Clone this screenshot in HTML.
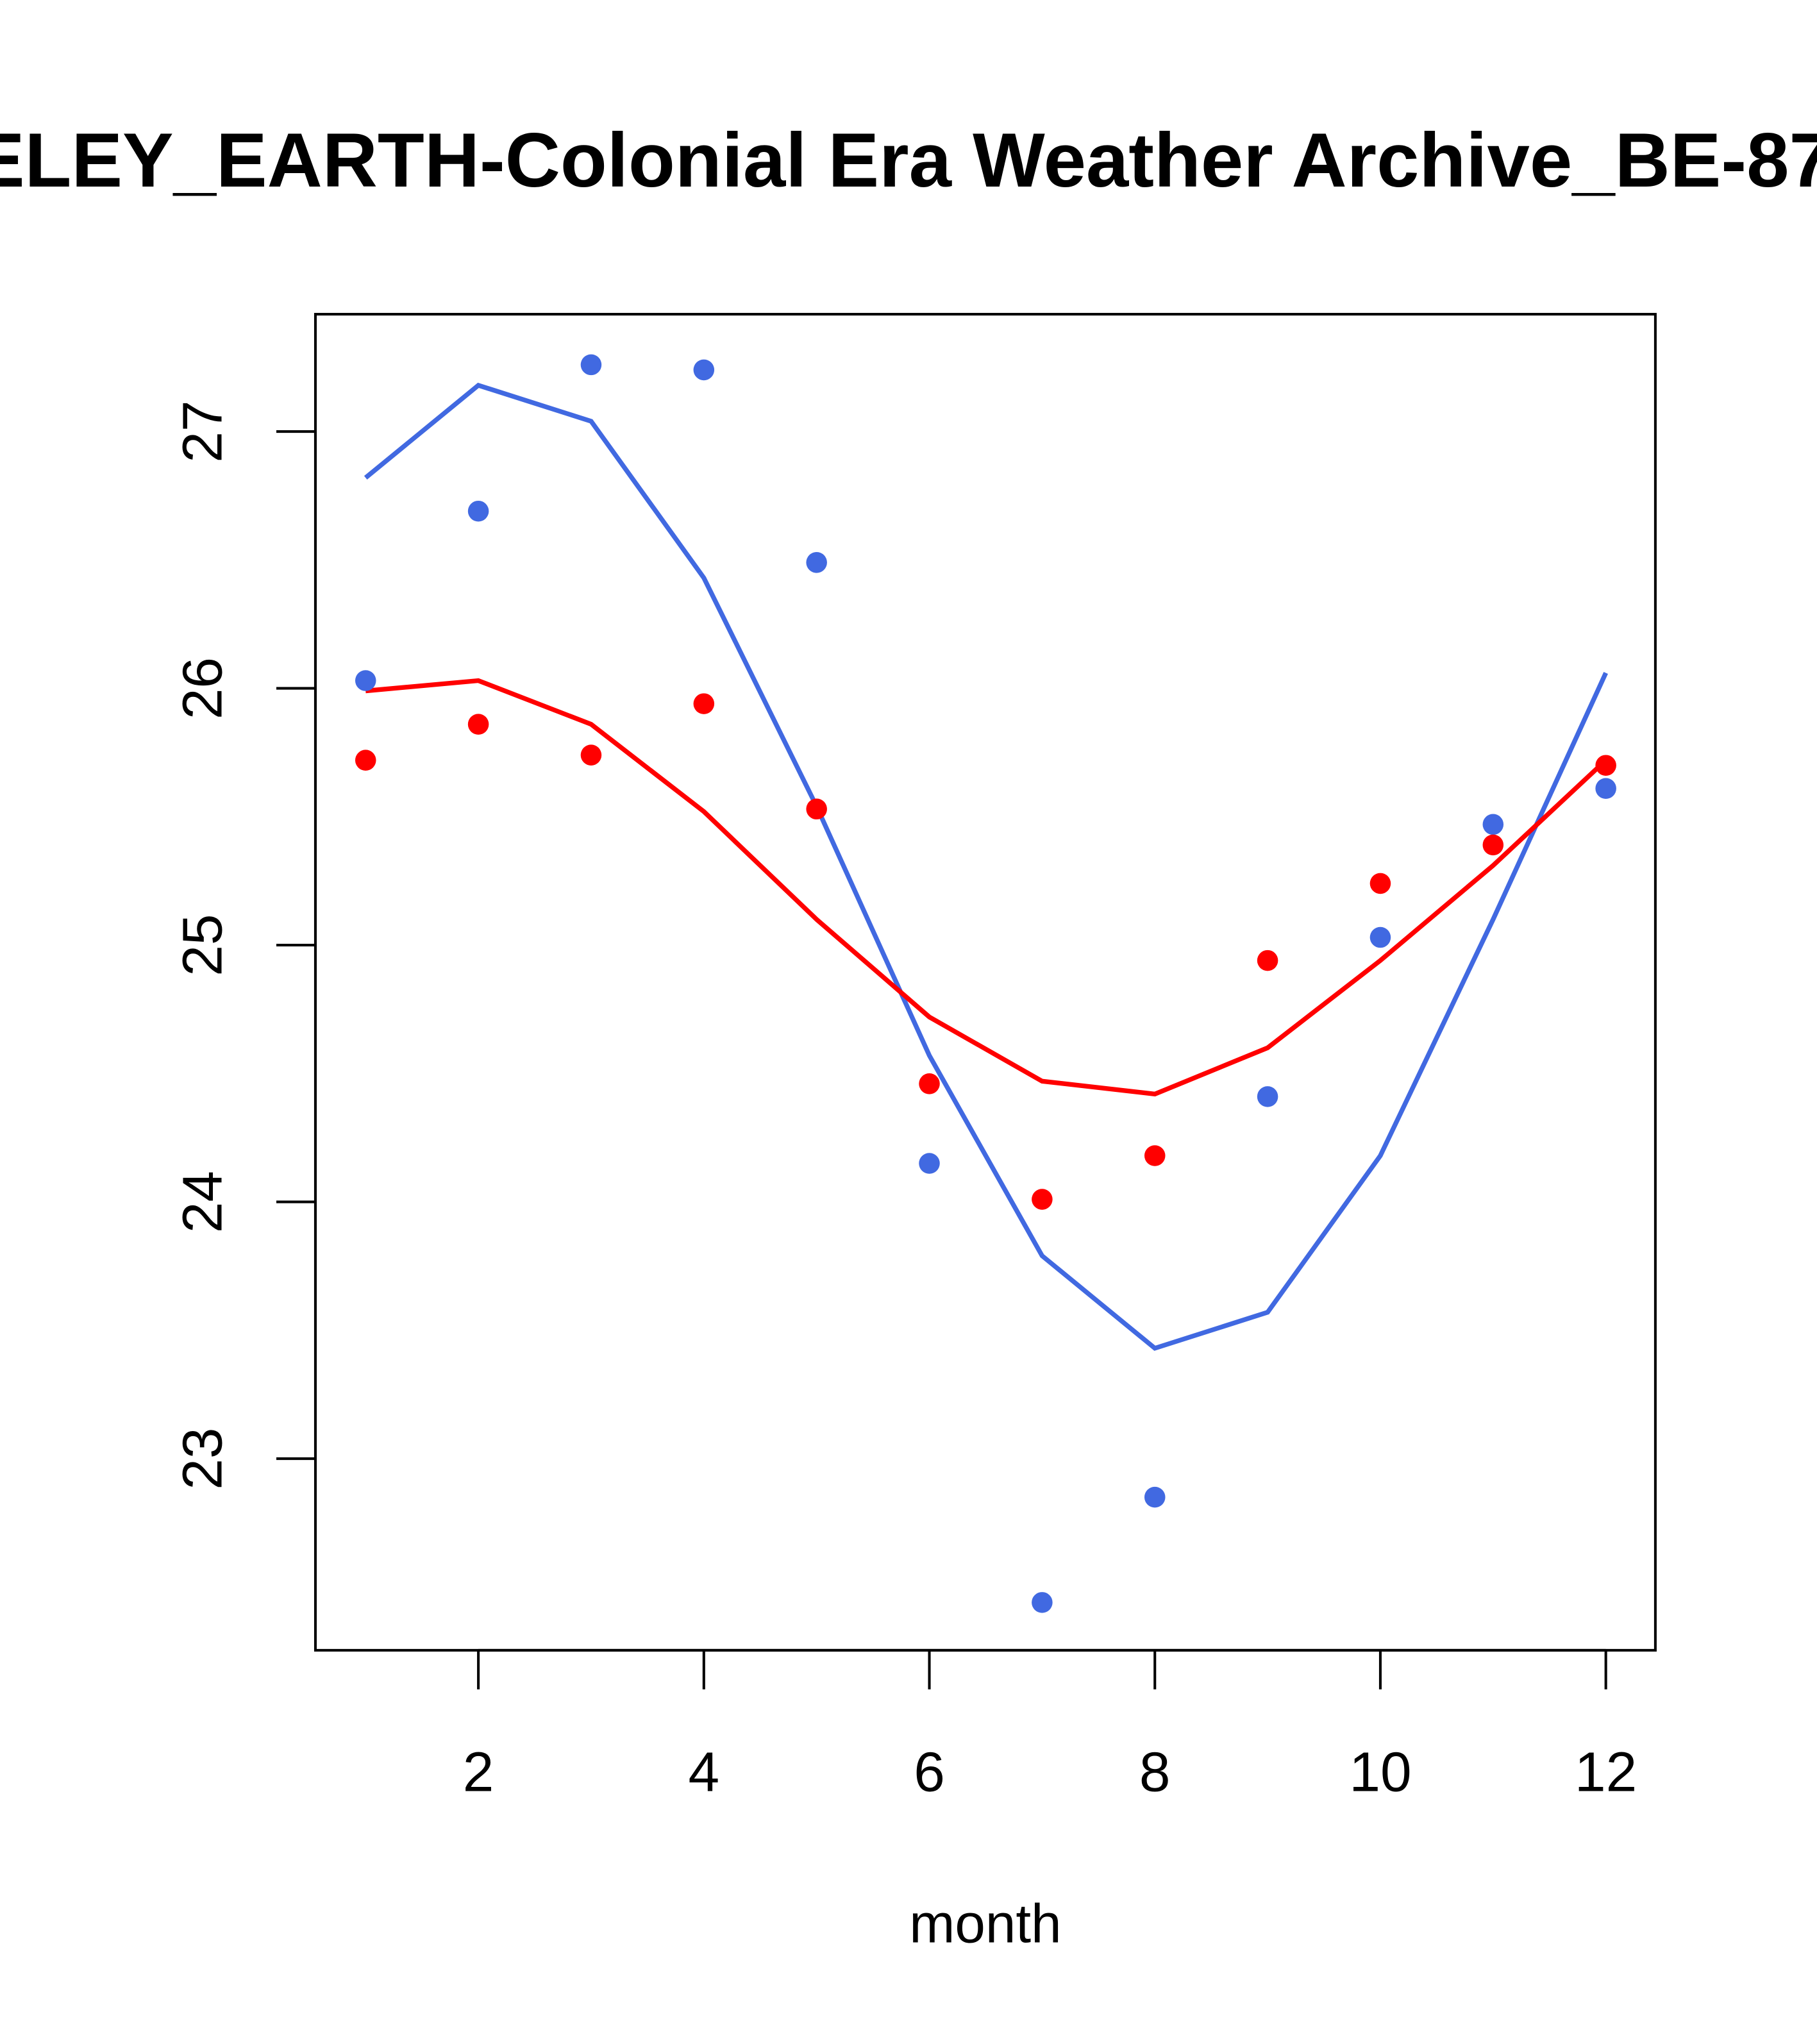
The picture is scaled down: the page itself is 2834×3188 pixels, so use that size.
<!DOCTYPE html>
<html><head><meta charset="utf-8"><style>
html,body{margin:0;padding:0;background:#fff;overflow:hidden}
svg{display:block}
text{font-family:"Liberation Sans",sans-serif;fill:#000}
</style></head><body>
<svg id="chart" xmlns="http://www.w3.org/2000/svg" width="2834" height="3188" viewBox="0 0 1394 1568">
<text x="642" y="143" text-anchor="middle" font-size="58.7" font-weight="bold">BERKELEY_EARTH-Colonial Era Weather Archive_BE-8753</text>
<rect x="242" y="241" width="1028" height="1025" fill="none" stroke="#000" stroke-width="2"/>
<g id="axes"></g>
<g id="series"></g>
<text x="756" y="1490" text-anchor="middle" font-size="42">month</text>
</svg>
<script>
const months=[1,2,3,4,5,6,7,8,9,10,11,12];
const bluePoints=[26.03,26.69,27.26,27.24,26.49,24.15,22.44,22.85,24.41,25.03,25.47,25.61];
const blueLine=[26.82,27.18,27.04,26.43,25.54,24.57,23.79,23.43,23.57,24.18,25.10,26.06];
const redPoints=[25.72,25.86,25.74,25.94,25.53,24.46,24.01,24.18,24.94,25.24,25.39,25.70];
const redLine=[25.99,26.03,25.86,25.52,25.10,24.72,24.47,24.42,24.60,24.94,25.31,25.72];
const xTicks=[2,4,6,8,10,12];
const yTicks=[23,24,25,26,27];

const NS="http://www.w3.org/2000/svg";
const xs=m=>280.5+(m-1)*86.5;
const ys=v=>1119-(v-23)*197;
function mk(tag,attrs,parent){const e=document.createElementNS(NS,tag);for(const k in attrs)e.setAttribute(k,attrs[k]);parent.appendChild(e);return e;}
const axes=document.getElementById('axes'),series=document.getElementById('series');

let xa=mk('line',{x1:xs(2),x2:xs(12),y1:1266,y2:1266,stroke:'#000','stroke-width':2},axes);


xTicks.forEach(t=>{
  const l=mk('line',{x1:xs(t),x2:xs(t),y1:1266,y2:1296,stroke:'#000','stroke-width':2},axes);
  
  
  const tx=mk('text',{x:xs(t),y:1374,'text-anchor':'middle','font-size':43},axes);
  tx.textContent=t;
  
  
});
let ya=mk('line',{x1:242,x2:242,y1:ys(23),y2:ys(27),stroke:'#000','stroke-width':2},axes);


yTicks.forEach(t=>{
  const y=ys(t);
  const l=mk('line',{x1:212,x2:242,y1:y,y2:y,stroke:'#000','stroke-width':2},axes);
  
  
  const tx=mk('text',{x:170,y:y,'text-anchor':'middle','font-size':43,transform:`rotate(-90 170 ${y})`},axes);
  tx.textContent=t;
  
  
});
function line(vals,color,name){
  const p=mk('polyline',{points:vals.map((v,i)=>xs(months[i])+','+ys(v)).join(' '),fill:'none',stroke:color,'stroke-width':3.6},series);
  
  
}
function pts(vals,color,name){
  vals.forEach((v,i)=>{
    const c=mk('circle',{cx:xs(months[i]),cy:ys(v),r:8,fill:color},series);
    
    
  });
}
line(blueLine,'#4169E1','blue-smooth-line');
line(redLine,'#FF0000','red-smooth-line');
pts(bluePoints,'#4169E1','blue-point');
pts(redPoints,'#FF0000','red-point');
</script>
</body></html>
